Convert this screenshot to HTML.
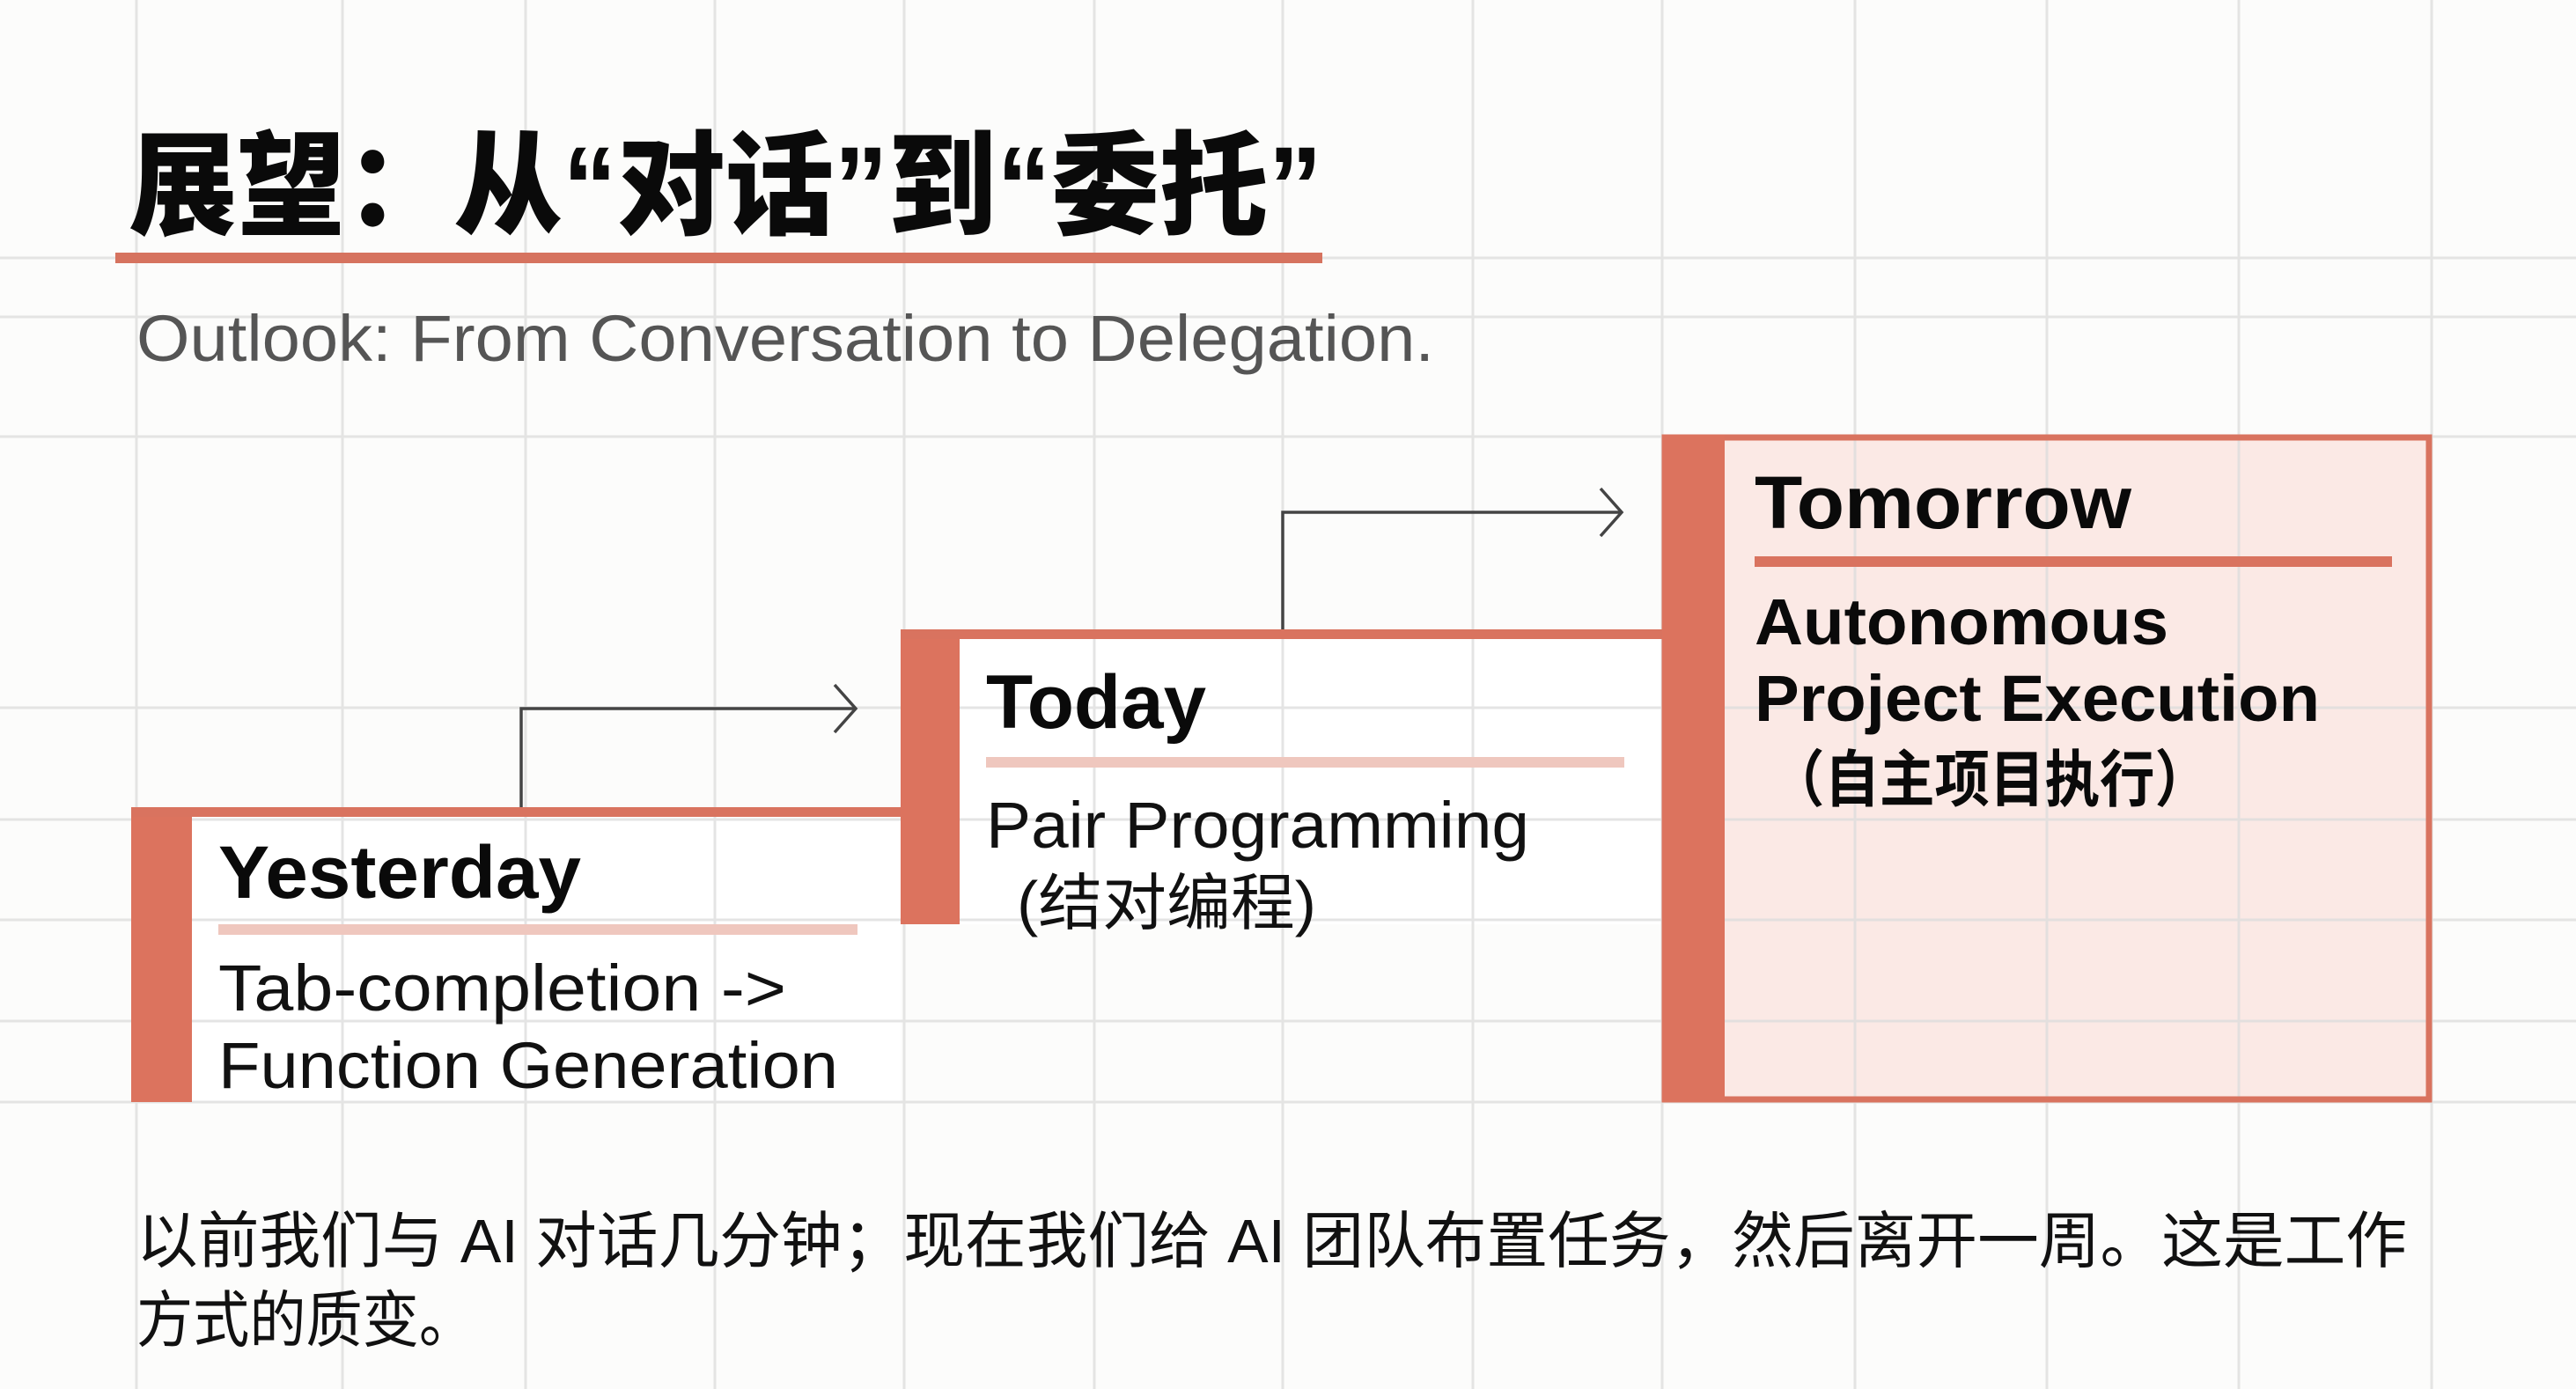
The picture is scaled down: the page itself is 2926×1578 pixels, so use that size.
<!DOCTYPE html>
<html><head><meta charset="utf-8"><style>
html,body{margin:0;padding:0;background:#fcfcfb;}
svg{display:block}
</style></head><body>
<svg width="2926" height="1578" viewBox="0 0 2926 1578" xmlns="http://www.w3.org/2000/svg">
<rect width="2926" height="1578" fill="#fcfcfb"/>
<rect x="1888" y="494" width="874" height="758" fill="#fbe9e5"/>
<rect x="218" y="922" width="805" height="330" fill="#ffffff"/>
<rect x="1090" y="720" width="798" height="330" fill="#ffffff"/>
<g stroke="#dcdcdc" stroke-width="3" opacity="0.75">
<line x1="155" y1="0" x2="155" y2="1578"/>
<line x1="389" y1="0" x2="389" y2="1578"/>
<line x1="597" y1="0" x2="597" y2="1578"/>
<line x1="812" y1="0" x2="812" y2="1578"/>
<line x1="1027" y1="0" x2="1027" y2="1578"/>
<line x1="1243" y1="0" x2="1243" y2="1578"/>
<line x1="1457" y1="0" x2="1457" y2="1578"/>
<line x1="1673" y1="0" x2="1673" y2="1578"/>
<line x1="1888" y1="0" x2="1888" y2="1578"/>
<line x1="2107" y1="0" x2="2107" y2="1578"/>
<line x1="2325" y1="0" x2="2325" y2="1578"/>
<line x1="2543" y1="0" x2="2543" y2="1578"/>
<line x1="2762" y1="0" x2="2762" y2="1578"/>
<line x1="0" y1="293" x2="2926" y2="293"/>
<line x1="0" y1="360" x2="2926" y2="360"/>
<line x1="0" y1="496" x2="2926" y2="496"/>
<line x1="0" y1="804" x2="2926" y2="804"/>
<line x1="0" y1="931" x2="2926" y2="931"/>
<line x1="0" y1="1045" x2="2926" y2="1045"/>
<line x1="0" y1="1160" x2="2926" y2="1160"/>
<line x1="0" y1="1252" x2="2926" y2="1252"/>
</g>
<text x="146" y="256" font-family="'Noto Sans CJK SC', sans-serif" font-weight="900" font-size="128" fill="#0a0a0a" textLength="1356" lengthAdjust="spacingAndGlyphs">展望：从<tspan font-family="'Liberation Sans', sans-serif">“</tspan>对话<tspan font-family="'Liberation Sans', sans-serif">”</tspan>到<tspan font-family="'Liberation Sans', sans-serif">“</tspan>委托<tspan font-family="'Liberation Sans', sans-serif">”</tspan></text>
<rect x="131" y="287" width="1371" height="12" fill="#d6735f"/>
<text x="155" y="410" font-family="'Liberation Sans', sans-serif" font-size="74" fill="#555" textLength="1474" lengthAdjust="spacingAndGlyphs">Outlook: From Conversation to Delegation.</text>

<rect x="1891" y="497" width="868" height="752" fill="none" stroke="#d9735f" stroke-width="7"/>
<rect x="1888" y="494" width="71" height="758" fill="#dc735e"/>
<rect x="149" y="922" width="69" height="330" fill="#dc735e"/>
<rect x="149" y="917" width="874" height="11" fill="#d9735f"/>
<rect x="1023" y="720" width="67" height="330" fill="#dc735e"/>
<rect x="1023" y="715" width="865" height="11" fill="#d9735f"/>

<g fill="none" stroke="#444" stroke-width="3.5">
<polyline points="592,917 592,805 972,805"/>
<polyline points="948,778 972,805 948,832"/>
<polyline points="1457,715 1457,582 1842,582"/>
<polyline points="1818,555 1842,582 1818,609"/>
</g>

<text x="248" y="1020" font-family="'Liberation Sans', sans-serif" font-weight="bold" font-size="84" fill="#0a0a0a" textLength="412" lengthAdjust="spacingAndGlyphs">Yesterday</text>
<rect x="248" y="1050" width="726" height="12" fill="#efc7be"/>
<text x="248" y="1148" font-family="'Liberation Sans', sans-serif" font-size="74" fill="#111" textLength="645" lengthAdjust="spacingAndGlyphs">Tab-completion -&gt;</text>
<text x="248" y="1236" font-family="'Liberation Sans', sans-serif" font-size="74" fill="#111" textLength="704" lengthAdjust="spacingAndGlyphs">Function Generation</text>

<text x="1120" y="827" font-family="'Liberation Sans', sans-serif" font-weight="bold" font-size="86" fill="#0a0a0a" textLength="250" lengthAdjust="spacingAndGlyphs">Today</text>
<rect x="1120" y="860" width="725" height="12" fill="#efc7be"/>
<text x="1120" y="963" font-family="'Liberation Sans', sans-serif" font-size="74" fill="#111" textLength="617" lengthAdjust="spacingAndGlyphs">Pair Programming</text>
<text x="1155" y="1050" font-family="'Liberation Sans','Noto Sans CJK SC', sans-serif" font-size="70" fill="#111" textLength="340" lengthAdjust="spacingAndGlyphs">(结对编程)</text>

<text x="1993" y="600" font-family="'Liberation Sans', sans-serif" font-weight="bold" font-size="84" fill="#0a0a0a" textLength="428" lengthAdjust="spacingAndGlyphs">Tomorrow</text>
<rect x="1993" y="632" width="724" height="12" fill="#d9735f"/>
<text x="1993" y="732" font-family="'Liberation Sans', sans-serif" font-weight="bold" font-size="74" fill="#0a0a0a" textLength="470" lengthAdjust="spacingAndGlyphs">Autonomous</text>
<text x="1993" y="819" font-family="'Liberation Sans', sans-serif" font-weight="bold" font-size="74" fill="#0a0a0a" textLength="642" lengthAdjust="spacingAndGlyphs">Project Execution</text>
<text x="2010" y="910" font-family="'Noto Sans CJK SC', sans-serif" font-weight="bold" font-size="70" fill="#0a0a0a" textLength="500" lengthAdjust="spacingAndGlyphs">（自主项目执行）</text>

<text x="155" y="1434" font-family="'Liberation Sans','Noto Sans CJK SC', sans-serif" font-size="70" fill="#111" textLength="2579" lengthAdjust="spacingAndGlyphs">以前我们与 AI 对话几分钟；现在我们给 AI 团队布置任务，然后离开一周。这是工作</text>
<text x="155" y="1524" font-family="'Noto Sans CJK SC', sans-serif" font-size="70" fill="#111" textLength="385" lengthAdjust="spacingAndGlyphs">方式的质变。</text>
</svg>
</body></html>
